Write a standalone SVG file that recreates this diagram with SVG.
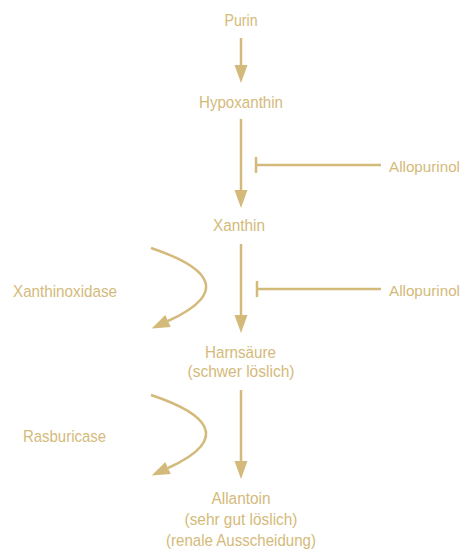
<svg xmlns="http://www.w3.org/2000/svg" width="463" height="549" viewBox="0 0 463 549">
<defs>
<style>
text{font-family:"Liberation Sans",Arial,sans-serif;font-size:16.3px;fill:#D4BA7A}
.c{text-anchor:middle}
.side{font-size:15px}
.ln{fill:none;stroke:#D4BA7A;stroke-width:2.5}
.arr{marker-end:url(#ah)}
</style>
<marker id="ah" markerUnits="userSpaceOnUse" markerWidth="20" markerHeight="14" viewBox="0 -7 20 14" refX="0" refY="0" orient="auto" overflow="visible">
<path d="M0,-6.5 L18,0 L0,6.5 Z" fill="#D4BA7A"/>
</marker>
</defs>
<rect width="463" height="549" fill="#FFFFFF"/>
<g id="connectors">
<line class="ln arr" x1="241" y1="38" x2="241" y2="65"/>
<line class="ln arr" x1="241" y1="119" x2="241" y2="190"/>
<line class="ln arr" x1="241" y1="244" x2="241" y2="315"/>
<line class="ln arr" x1="241" y1="390" x2="241" y2="461"/>
<path class="ln" d="M381,165 H256 M256,157 V173"/>
<path class="ln" d="M381,289 H257 M257,281 V297"/>
<path class="ln arr" d="M151,248 C205,266 234,291 168,321"/>
<path class="ln arr" d="M151,395 C205,413 234,438 168,468"/>
</g>
<g id="purin"><text class="c" x="241" y="26" textLength="33" lengthAdjust="spacingAndGlyphs">Purin</text></g>
<g id="hypoxanthin"><text class="c" x="241" y="108" textLength="84" lengthAdjust="spacingAndGlyphs">Hypoxanthin</text></g>
<g id="xanthin"><text class="c" x="239" y="231" textLength="52" lengthAdjust="spacingAndGlyphs">Xanthin</text></g>
<g id="harnsaeure"><text class="c" x="240.5" y="358" textLength="71" lengthAdjust="spacingAndGlyphs">Harnsäure</text><text class="c" x="241" y="377" textLength="107" lengthAdjust="spacingAndGlyphs">(schwer löslich)</text></g>
<g id="allantoin"><text class="c" x="241" y="504" textLength="59" lengthAdjust="spacingAndGlyphs">Allantoin</text><text class="c" x="241" y="525" textLength="113" lengthAdjust="spacingAndGlyphs">(sehr gut löslich)</text><text class="c" x="241" y="546" textLength="150" lengthAdjust="spacingAndGlyphs">(renale Ausscheidung)</text></g>
<g id="allopurinol1"><text class="side" x="389" y="172" textLength="71" lengthAdjust="spacingAndGlyphs">Allopurinol</text></g>
<g id="allopurinol2"><text class="side" x="389" y="296" textLength="71" lengthAdjust="spacingAndGlyphs">Allopurinol</text></g>
<g id="xanthinoxidase"><text x="13" y="297" textLength="104" lengthAdjust="spacingAndGlyphs">Xanthinoxidase</text></g>
<g id="rasburicase"><text x="23" y="442" textLength="83" lengthAdjust="spacingAndGlyphs">Rasburicase</text></g>
</svg>
